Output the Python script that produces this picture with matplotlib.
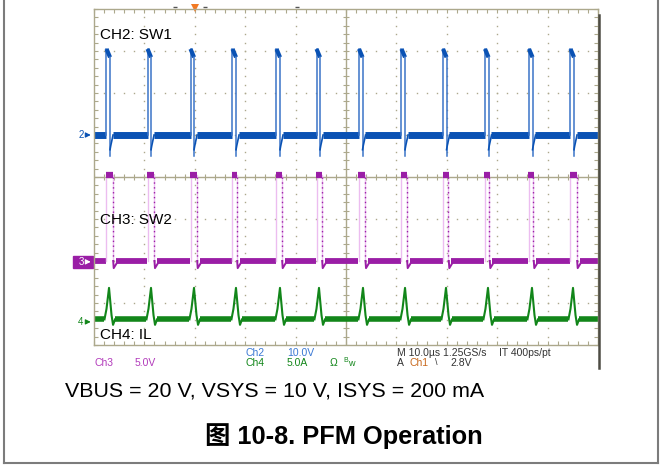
import matplotlib
matplotlib.use("Agg")
import matplotlib.pyplot as plt
from matplotlib.lines import Line2D
from matplotlib.patches import Rectangle
from matplotlib.transforms import blended_transform_factory

# scope capture, 10 us/div, 10 x 8 divisions
# switching cycles (us): SW1 rising edge, SW2 falling edge, IL peak
sw1_on = [2.48, 10.62, 19.15, 27.48, 36.21, 44.15, 52.58, 61.01, 69.25, 77.58, 86.31, 94.54]
sw2_off = [3.71, 11.90, 20.38, 28.31, 37.24, 45.18, 53.77, 62.04, 70.30, 78.43, 87.16, 95.77]
il_peak = [2.98, 11.31, 19.84, 28.17, 36.90, 44.64, 53.37, 61.71, 69.84, 78.17, 86.90, 95.04]
sw1_width = 0.7

# trace levels in divisions (ground, high, undershoot)
ch2_lvl = [1.0, 3.05, 0.5]
ch3_lvl = [-2.0, 0.05, -2.17]
ch4_lvl = [-3.39, -2.64, -3.52]

labels = ["CH2: SW1", "CH3: SW2", "CH4: IL"]
label_y = [3.38, -1.02, -3.76]

blue, blue_lt = "#0a52b4", "#3a74c8"
mag, mag_lt = "#9a1ea6", "#ecbdf0"
green = "#12861a"
frame_c = "#aca88c"
font = ["Liberation Sans", "DejaVu Sans"]

fig = plt.figure(figsize=(6.62, 4.66), dpi=100)
ax = fig.add_axes([94 / 662, 1 - 345 / 466, 504 / 662, 336 / 466])
ax.set_xlim(0, 100)
ax.set_ylim(-4, 4)

# ---- graticule
for s in ax.spines.values():
    s.set_color(frame_c)
    s.set_linewidth(1.0)
ax.set_xticks(range(0, 101, 10))
ax.set_xticks([x * 2 for x in range(51)], minor=True)
ax.set_yticks(range(-4, 5))
ax.set_yticks([y * 0.2 - 4 for y in range(41)], minor=True)
ax.tick_params(which="both", direction="in", length=3, width=0.8, color=frame_c,
               top=True, right=True, labelbottom=False, labelleft=False)
ax.axhline(0, color=frame_c, lw=1)
ax.axvline(50, color=frame_c, lw=1)
xs = [x * 2 for x in range(51)]
ys = [y * 0.2 - 4 for y in range(41)]
ax.plot(xs, [0] * len(xs), ls="", marker="|", ms=5, mew=0.8, color=frame_c)
ax.plot([50] * len(ys), ys, ls="", marker="_", ms=5, mew=0.8, color=frame_c)
for gx in range(10, 100, 10):
    if gx != 50:
        ax.plot([gx] * len(ys), ys, ls="", marker="s", ms=1.0, mew=0, color=frame_c)
for gy in range(-3, 4):
    if gy != 0:
        ax.plot(xs, [gy] * len(xs), ls="", marker="s", ms=1.0, mew=0, color=frame_c)

# ---- CH2 : SW1
g, h, d = ch2_lvl
prev = 0
for t in sw1_on:
    ax.plot([prev, t], [g, g], color=blue, lw=5, solid_capstyle="butt")
    ax.plot([t, t], [g, h], color=blue_lt, lw=1.1)
    ax.plot([t, t + sw1_width], [h, h - 0.2], color=blue, lw=3, solid_capstyle="butt")
    ax.plot([t + sw1_width, t + sw1_width], [h - 0.2, d], color=blue_lt, lw=1.1)
    ax.plot([t + sw1_width, t + sw1_width + 0.15, t + sw1_width + 0.6],
            [d + 0.15, g - 0.25, g], color=blue, lw=1.2)
    prev = t + sw1_width + 0.5
ax.plot([prev, 100], [g, g], color=blue, lw=5, solid_capstyle="butt")

# ---- CH3 : SW2
g, h, d = ch3_lvl
prev = 0
for t_on, t_off in zip(sw1_on, sw2_off):
    ax.plot([prev, t_on - 0.1], [g, g], color=mag, lw=4.2, solid_capstyle="butt")
    ax.plot([t_on, t_on], [g, h], color=mag_lt, lw=1)
    ax.plot([t_off, t_off], [g, h], color=mag_lt, lw=1)
    ax.plot([t_off, t_off], [g, h], color=mag, lw=1, ls=(0, (1, 2.5)))
    ax.plot([t_on - 0.1, t_off + 0.05], [h, h], color=mag, lw=4.5, solid_capstyle="butt")
    ax.plot([t_off + 0.1, t_off + 0.2, t_off + 0.8], [g, d, g - 0.05], color=mag, lw=1.4)
    prev = t_off + 0.6
ax.plot([prev, 100], [g, g], color=mag, lw=4.2, solid_capstyle="butt")

# ---- CH4 : IL
g, h, d = ch4_lvl
prev = 0
for t in il_peak:
    ax.plot([prev, t - 0.9], [g, g], color=green, lw=4, solid_capstyle="butt")
    ax.plot([t - 0.9, t - 0.5, t, t + 0.5, t + 0.8, t + 1.2],
            [g, g + 0.25, h, g + 0.1, d, g], color=green, lw=1.5)
    prev = t + 1.1
ax.plot([prev, 100], [g, g], color=green, lw=4, solid_capstyle="butt")

# ---- labels on the screen
for txt, y in zip(labels, label_y):
    ax.text(0.012, y, txt, transform=blended_transform_factory(ax.transAxes, ax.transData),
            fontsize=11, va="center", ha="left", family=font)

# ---- ground markers left of the screen
tr = blended_transform_factory(ax.transAxes, ax.transData)
ax.add_patch(Rectangle((-0.0423, -2.16), 0.0397, 0.286, transform=tr, color=mag, clip_on=False))
for y, c, col in [(1.0, "2", blue), (-2.02, "3", "white"), (-3.45, "4", green)]:
    ax.text(-0.026, y, c, transform=tr, fontsize=7, color=col, ha="center", va="center", family=font)
    ax.annotate("", xy=(-0.001, y), xytext=(-0.018, y), xycoords=tr, annotation_clip=False,
                arrowprops=dict(arrowstyle="-|>,head_length=0.3,head_width=0.15", lw=0.8, color=col))

# ---- trigger markers on top
ax.plot([20], [4.02], marker="v", ms=6, color="#f27a24", clip_on=False, mew=0)
ax.plot([16.1, 22.0, 40.3], [4.05, 4.05, 4.05], ls="", marker="_", ms=3, color="#555555", clip_on=False)

# ---- readout text
def ftext(x, y, s, c, size=7.5):
    fig.text(x / 662, 1 - y / 466, s, color=c, fontsize=size, va="center", ha="left", family=font)

ftext(246, 353, "Ch2", "#3a78d4")
ftext(287, 353, "10.0V", "#3a78d4")
ftext(397, 353, "M 10.0µs 1.25GS/s", "#333333")
ftext(499, 353, "IT 400ps/pt", "#333333")
ftext(94, 362.5, "Ch3", "#b23abb")
ftext(135, 362.5, "5.0V", "#b23abb")
ftext(246, 362.5, "Ch4", green)
ftext(287, 362.5, "5.0A", green)
ftext(330, 362.5, "Ω", green)
ftext(343, 361, "B", green, 5)
ftext(348, 363, "w", green, 6.5)
ftext(397, 362.5, "A", "#333333")
ftext(409, 362.5, "Ch1", "#c8681c")
ftext(435, 362.5, "\\", "#333333", 6.5)
ftext(450, 362.5, "2.8V", "#333333")

# scope picture edge
fig.add_artist(Line2D([599 / 662, 599 / 662], [1 - 15 / 466, 1 - 368 / 466],
                      transform=fig.transFigure, color="#4d4c44", lw=1.8))

# captions
fig.text(65 / 662, 1 - 391 / 466, "VBUS = 20 V, VSYS = 10 V, ISYS = 200 mA",
         fontsize=15.4, va="center", ha="left", family=font)
fig.text(205 / 662, 1 - 436 / 466, "图 10-8. PFM Operation", fontsize=18.3, weight="bold",
         va="center", ha="left", family=["Liberation Sans", "Noto Sans CJK SC"])

# page frame
for xx, yy in [([4, 4], [0, 463]), ([4, 658], [463, 463]), ([658, 658], [0, 463])]:
    fig.add_artist(Line2D([v / 662 for v in xx], [1 - v / 466 for v in yy],
                          transform=fig.transFigure, color="#7c7c7c", lw=1.5))

fig.savefig("out.png", dpi=100)
